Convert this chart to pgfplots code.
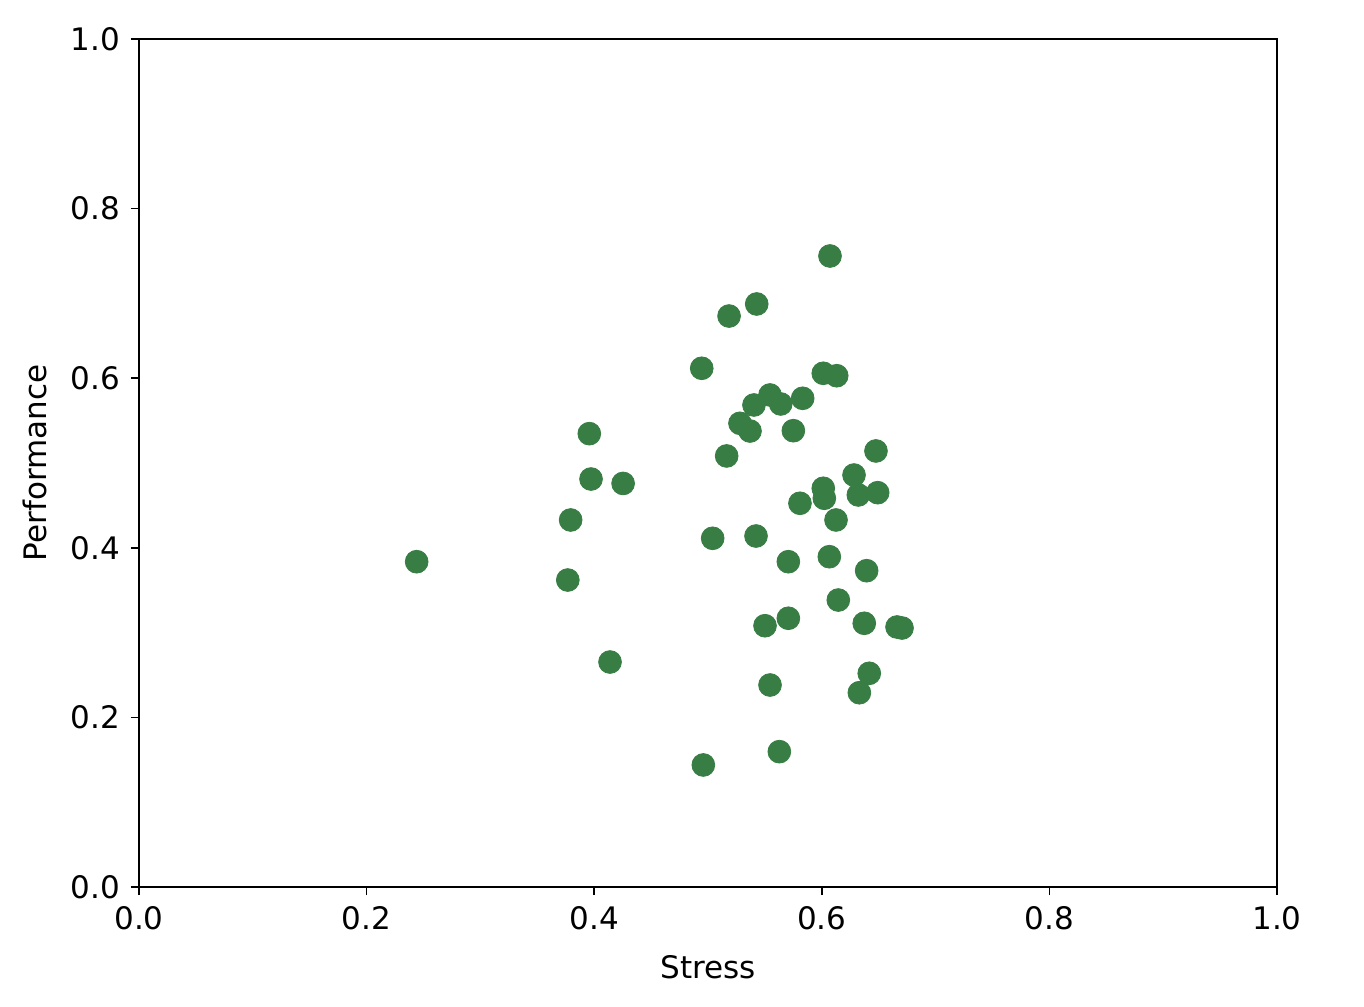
\documentclass[border=0pt]{standalone}
\usepackage{pgfplots}
\pgfplotsset{compat=1.18}
\usepackage{fontspec}
\setmainfont{DejaVu Sans}
\definecolor{ptgreen}{RGB}{56,125,68}
\begin{document}
\begin{tikzpicture}
\path[use as bounding box, fill=white] (-69.5pt,-59.5pt) rectangle (612.5pt,443.5pt);
\begin{axis}[
  scale only axis,
  width=569pt, height=424pt,
  anchor=origin, at={(0pt,0pt)},
  xmin=0, xmax=1, ymin=0, ymax=1,
  xtick={0,0.2,0.4,0.6,0.8,1.0},
  ytick={0,0.2,0.4,0.6,0.8,1.0},
  xticklabel style={/pgf/number format/.cd,fixed,fixed zerofill,precision=1},
  yticklabel style={/pgf/number format/.cd,fixed,fixed zerofill,precision=1},
  /pgf/number format/assume math mode=true,
  tick label style={font=\fontsize{15.5}{18}\selectfont},
  label style={font=\fontsize{15.5}{18}\selectfont},
  xlabel={Stress}, ylabel={Performance},
  xlabel style={at={(axis description cs:0.5,0)}, anchor=center, yshift=-40pt},
  ylabel style={at={(axis description cs:0,0.5)}, anchor=center, xshift=0pt, yshift=52pt},
  tick align=outside, tick pos=left,
  major tick length=4pt,
  axis line style={line width=0.8pt},
  every tick/.style={black, line width=0.8pt},
  xticklabel shift=2pt, yticklabel shift=2pt,
]
\addplot[only marks, mark=*, mark size=5.7pt, mark options={fill=ptgreen, draw=ptgreen}, color=ptgreen] coordinates {
(0.6072,0.7441) (0.5428,0.6875) (0.5185,0.6733) (0.4945,0.6117)
(0.6013,0.6058) (0.6131,0.6029) (0.5545,0.5802) (0.5404,0.5684)
(0.5639,0.5696) (0.5832,0.5763) (0.5281,0.5468) (0.5369,0.5377)
(0.5750,0.5381) (0.5164,0.5083) (0.6476,0.5142) (0.6283,0.4858)
(0.6013,0.4702) (0.6022,0.4584) (0.6321,0.4623) (0.6491,0.4650)
(0.5808,0.4525) (0.6125,0.4328) (0.5041,0.4112) (0.5422,0.4139)
(0.5706,0.3836) (0.6066,0.3895) (0.6394,0.3730) (0.6145,0.3384)
(0.5501,0.3081) (0.5706,0.3169) (0.6373,0.3110) (0.6661,0.3066)
(0.6705,0.3054) (0.6417,0.2520) (0.6330,0.2291) (0.5545,0.2382)
(0.5627,0.1596) (0.4959,0.1439) (0.2440,0.3836) (0.3768,0.3620)
(0.3793,0.4328) (0.3957,0.5346) (0.3972,0.4811) (0.4254,0.4759)
(0.4139,0.2653)
};
\end{axis}
\end{tikzpicture}
\end{document}
